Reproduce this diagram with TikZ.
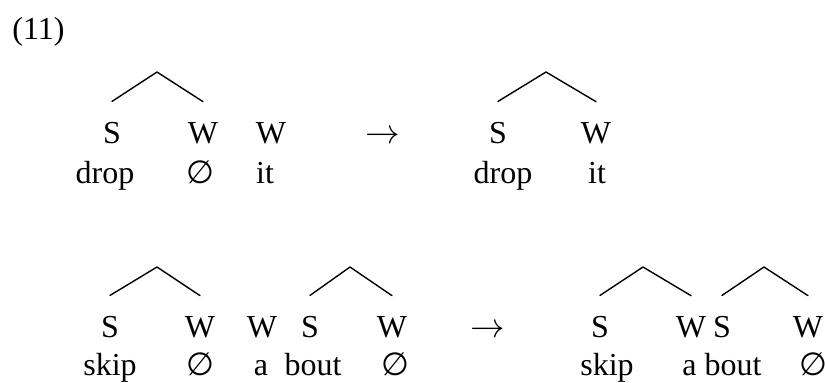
\documentclass[tikz,border=0pt]{standalone}
\usepackage{fontspec}
\setmainfont{Liberation Serif}
\newfontfamily\slotfont{DejaVu Sans}
\newcommand{\emptyslot}{{\slotfont ∅}}
\begin{document}
\begin{tikzpicture}[x=0.5pt,y=-0.5pt,line cap=round,line join=round,
  lab/.style={inner sep=0pt,anchor=base,font=\fontsize{16}{19}\selectfont},
  branch/.style={line width=0.7pt}]
  \useasboundingbox (0,0) rectangle (825,382);
  \node[lab,anchor=base west] (num) at (12,39) {(11)};
  % first line
  \node[lab] (aS) at (112,143) {S};
  \node[lab] (aW) at (203,143) {W};
  \node[lab] (aWx) at (271,143) {W};
  \node[lab] (adrop) at (105,183) {drop};
  \node[lab] (anull) at (200,183) {\emptyslot};
  \node[lab] (ait) at (265,183) {it};
  \coordinate (atop) at (157,72);
  \draw[branch] ([yshift=10pt]aS.north) -- (atop) -- ([yshift=10pt]aW.north);
  \node[lab] (arr1) at (383,143) {$\rightarrow$};
  \node[lab] (bS) at (498,143) {S};
  \node[lab] (bW) at (596,143) {W};
  \node[lab] (bdrop) at (503,183) {drop};
  \node[lab] (bit) at (597,183) {it};
  \coordinate (btop) at (546,72);
  \draw[branch] ([yshift=10pt]bS.north) -- (btop) -- ([yshift=10pt]bW.north);
  % second line
  \node[lab] (cS) at (110,337) {S};
  \node[lab] (cW) at (200,337) {W};
  \node[lab] (cWx) at (262,337) {W};
  \node[lab] (cSb) at (310,337) {S};
  \node[lab] (cWb) at (392,337) {W};
  \node[lab] (cskip) at (110,375) {skip};
  \node[lab] (cnull) at (200,375) {\emptyslot};
  \node[lab] (ca) at (261,375) {a};
  \node[lab] (cbout) at (313,375) {bout};
  \node[lab] (cnullb) at (395,375) {\emptyslot};
  \coordinate (ctop) at (157,267);
  \coordinate (ctopb) at (350,267);
  \draw[branch] ([yshift=10pt]cS.north) -- (ctop) -- ([yshift=10pt]cW.north);
  \draw[branch] ([yshift=10pt]cSb.north) -- (ctopb) -- ([yshift=10pt]cWb.north);
  \node[lab] (arr2) at (488,337) {$\rightarrow$};
  \node[lab] (dS) at (600,337) {S};
  \node[lab] (dW) at (691,337) {W};
  \node[lab] (dSb) at (722,337) {S};
  \node[lab] (dWb) at (808,337) {W};
  \node[lab] (dskip) at (607,375) {skip};
  \node[lab] (dabout) at (722,375) {a bout};
  \node[lab] (dnull) at (813,375) {\emptyslot};
  \coordinate (dtop) at (643,267);
  \coordinate (dtopb) at (764,267);
  \draw[branch] ([yshift=10pt]dS.north) -- (dtop) -- ([yshift=10pt]dW.north);
  \draw[branch] ([yshift=10pt]dSb.north) -- (dtopb) -- ([yshift=10pt]dWb.north);
\end{tikzpicture}
\end{document}
